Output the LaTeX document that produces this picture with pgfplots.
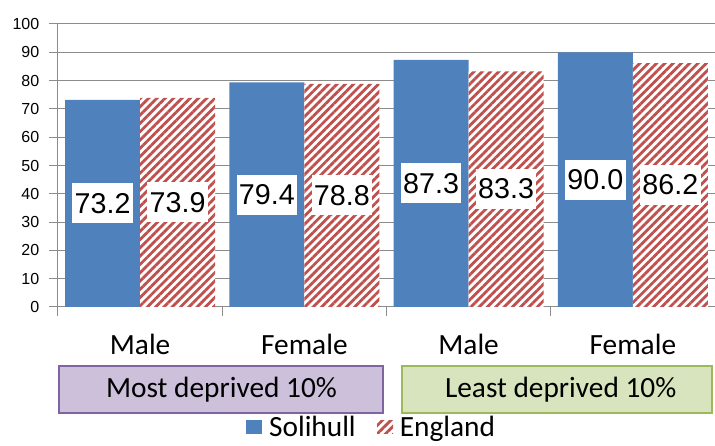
\documentclass[border=0pt]{standalone}
\usepackage{pgfplots}
\pgfplotsset{compat=1.18}
\usetikzlibrary{patterns.meta}
\usepackage{fontspec}
\setmainfont{Carlito}
\newfontfamily\arialf{Liberation Sans}
\definecolor{solblue}{HTML}{4F81BD}
\definecolor{engred}{HTML}{C0504D}
\definecolor{gridgray}{HTML}{8C8C8C}
\definecolor{purfill}{HTML}{CCC0DA}
\definecolor{purdraw}{HTML}{8064A2}
\definecolor{grnfill}{HTML}{D7E4BD}
\definecolor{grndraw}{HTML}{9BBB59}
\begin{document}
\begin{tikzpicture}
\begin{axis}[
  scale only axis, width=492.75pt, height=212.25pt,
  ybar, bar width=56.25pt,
  xmin=-0.5, xmax=3.5, ymin=0, ymax=100,
  axis x line*=bottom, axis y line*=left,
  axis line style={gridgray, line width=0.75pt, -},
  /pgf/number format/assume math mode=true,
  ytick={0,10,...,100},
  ymajorgrids, grid style={gridgray, line width=0.75pt},
  tick style={gridgray, line width=0.75pt},
  major tick length=6.5pt, tick align=outside,
  xtick={0,1,2,3}, xticklabels={Male,Female,Male,Female},
  xtick style={draw=none},
  extra x ticks={-0.5,0.5,1.5,2.5,3.5}, extra x tick labels={},
  extra x tick style={xtick style={draw=gridgray}, grid=none},
  yticklabel style={font=\arialf\fontsize{12}{14}\selectfont, text=black, xshift=-4pt},
  xticklabel style={font=\fontsize{22}{26}\selectfont, text=black, yshift=-10.5pt},
  legend style={at={(rel axis cs:0.478,0)}, anchor=center, yshift=-90pt,
    draw=none, fill=none, legend columns=2,
    font=\fontsize{22}{26}\selectfont,
    /tikz/every odd column/.append style={column sep=3pt},
    /tikz/every even column/.append style={column sep=14pt}},
  legend image code/.code={\path[#1] (0pt,-5.2pt) rectangle (12pt,5.2pt);},
  nodes near coords align={center},
]
\addplot[fill=solblue, draw=none, bar shift=-28.125pt] coordinates {(0,73.2) (1,79.4) (2,87.3) (3,90.0)};
\addlegendentry{Solihull}
\addplot[fill=white, draw=none, bar shift=28.125pt,
  postaction={pattern={Lines[angle=45,distance=4.4pt,line width=2.1pt]}, pattern color=engred}]
  coordinates {(0,73.9) (1,78.8) (2,83.3) (3,86.2)};
\addlegendentry{England}
% value labels, placed at half the bar height
\addplot[forget plot, draw=none, fill=none, bar shift=-28.125pt, point meta=explicit,
  nodes near coords={\pgfmathprintnumber[fixed,fixed zerofill,precision=1]{\pgfplotspointmeta}},
  every node near coord/.append style={anchor=center, fill=white, text=black, inner xsep=1.8pt, inner ysep=0pt, minimum height=30pt, font=\arialf\fontsize{21.5}{24}\selectfont}]
  coordinates {(0,36.6)[73.2] (1,39.7)[79.4] (2,43.65)[87.3] (3,45.0)[90.0]};
\addplot[forget plot, draw=none, fill=none, bar shift=28.125pt, point meta=explicit,
  nodes near coords={\pgfmathprintnumber[fixed,fixed zerofill,precision=1]{\pgfplotspointmeta}},
  every node near coord/.append style={anchor=center, fill=white, text=black, inner xsep=1.8pt, inner ysep=0pt, minimum height=30pt, font=\arialf\fontsize{21.5}{24}\selectfont}]
  coordinates {(0,36.95)[73.9] (1,39.4)[78.8] (2,41.65)[83.3] (3,43.1)[86.2]};
\coordinate (O) at (axis cs:-0.5,0);
\end{axis}
\begin{scope}[shift={(O)}]
\draw[purdraw, fill=purfill, line width=1pt] (0.75pt,-44.25pt) rectangle (243.75pt,-79.5pt);
\node[font=\fontsize{22}{26}\selectfont] at (122.6pt,-61.9pt) {Most deprived 10\%};
\draw[grndraw, fill=grnfill, line width=1pt] (258pt,-44.25pt) rectangle (490.5pt,-79.5pt);
\node[font=\fontsize{22}{26}\selectfont] at (377pt,-61.9pt) {Least deprived 10\%};
\pgfresetboundingbox
\useasboundingbox (-43.5pt,-104.25pt) rectangle (492.75pt,230.25pt);
\end{scope}
\end{tikzpicture}
\end{document}
